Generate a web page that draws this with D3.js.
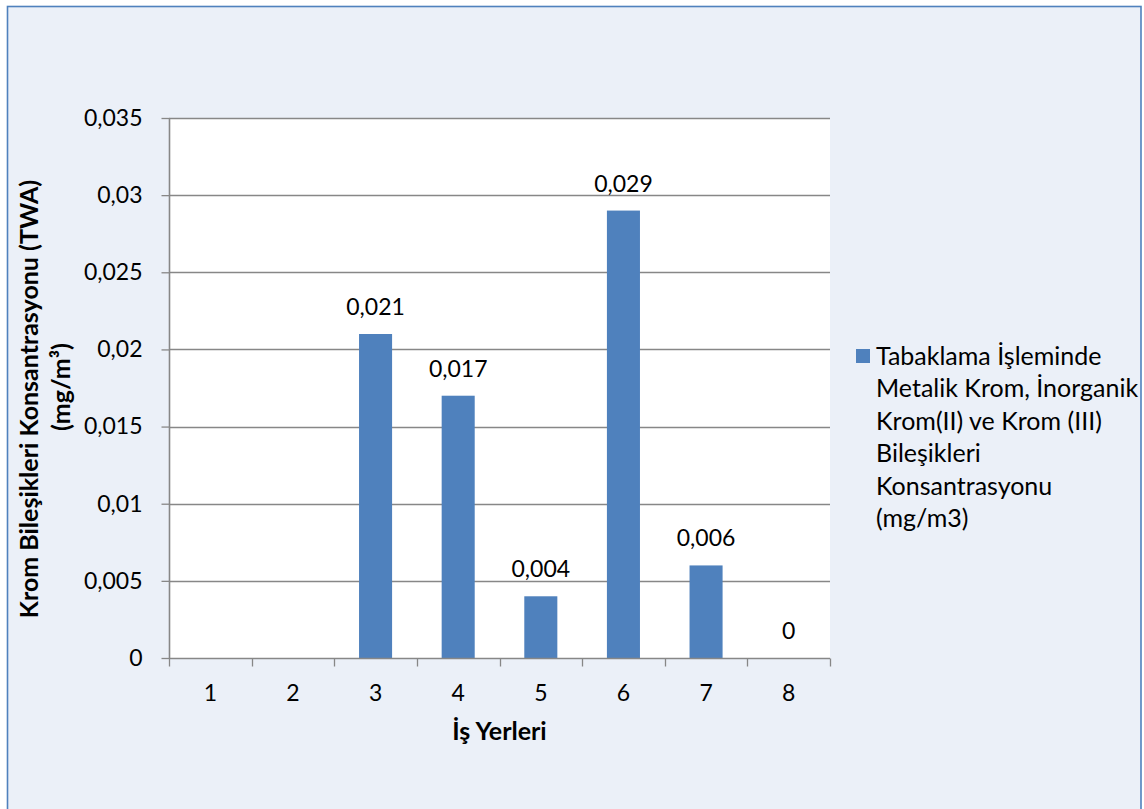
<!DOCTYPE html>
<html>
<head>
<meta charset="utf-8">
<script src="https://cdn.jsdelivr.net/npm/d3@7"></script>
<style>
  html, body { margin: 0; padding: 0; background: #fff; }
  svg { display: block; }
  text { font-family: Lato, "Open Sans", sans-serif; fill: #000; }
</style>
</head>
<body>
<script>
// Workplaces and their chromium compound concentrations (mg/m3, TWA)
const categories = ["1", "2", "3", "4", "5", "6", "7", "8"];
const values = [null, null, 0.021, 0.017, 0.004, 0.029, 0.006, 0];
const valueLabels = ["", "", "0,021", "0,017", "0,004", "0,029", "0,006", "0"];
const yTicks = [0, 0.005, 0.01, 0.015, 0.02, 0.025, 0.03, 0.035];
const yTickLabels = ["0", "0,005", "0,01", "0,015", "0,02", "0,025", "0,03", "0,035"];
const seriesName = ["Tabaklama İşleminde", "Metalik Krom, İnorganik", "Krom(II) ve Krom (III)", "Bileşikleri", "Konsantrasyonu", "(mg/m3)"];
const xTitle = "İş Yerleri";
const yTitle = ["Krom Bileşikleri Konsantrasyonu (TWA)", "(mg/m³)"];

const W = 1144, H = 809;
const plot = { left: 169, right: 830, top: 118, bottom: 658 };
const barColor = "#4F81BD";
const gridColor = "#878787";

const svg = d3.select("body").append("svg").attr("width", W).attr("height", H);

// chart area background and frame
svg.append("rect").attr("x", 0).attr("y", 0).attr("width", W).attr("height", H).attr("fill", "#fff");
svg.append("rect")
  .attr("x", 7.5).attr("y", 6.5).attr("width", 1133.5).attr("height", 820)
  .attr("fill", "#EBF0F8").attr("stroke", "#4F81BD").attr("stroke-width", 1.6);

// plot area
svg.append("rect")
  .attr("x", plot.left).attr("y", plot.top)
  .attr("width", plot.right - plot.left).attr("height", plot.bottom - plot.top)
  .attr("fill", "#fff");

const x = d3.scaleBand().domain(categories).range([plot.left, plot.right]).paddingInner(0).paddingOuter(0);
const y = d3.scaleLinear().domain([0, 0.035]).range([plot.bottom, plot.top]);

// horizontal gridlines
svg.append("g").selectAll("line").data(yTicks.filter(d => d > 0)).join("line")
  .attr("x1", plot.left).attr("x2", plot.right)
  .attr("y1", d => Math.round(y(d)) + 0.5).attr("y2", d => Math.round(y(d)) + 0.5)
  .attr("stroke", gridColor).attr("stroke-width", 1.3);

// bars
const barW = x.bandwidth() * 0.4;
svg.append("g").selectAll("rect").data(categories.map((c, i) => ({ c, v: values[i] })).filter(d => d.v !== null && d.v > 0)).join("rect")
  .attr("x", d => x(d.c) + (x.bandwidth() - barW) / 2)
  .attr("width", barW)
  .attr("y", d => y(d.v))
  .attr("height", d => y(0) - y(d.v))
  .attr("fill", barColor);

// y axis
const yAxis = d3.axisLeft(y).tickValues(yTicks).tickFormat((d, i) => yTickLabels[i]).tickSize(8).tickPadding(19);
const gy = svg.append("g").attr("transform", `translate(${plot.left + 0.5},0)`).call(yAxis);
gy.select(".domain").attr("stroke", gridColor).attr("stroke-width", 1.6).attr("d", `M0,${plot.top}V${plot.bottom}`);
gy.selectAll(".tick line").attr("stroke", gridColor).attr("stroke-width", 1.3);
gy.selectAll(".tick text").attr("font-size", 23).attr("font-family", "Lato").attr("fill", "#000");

// x axis with tick marks on category boundaries
const xAxisG = svg.append("g").attr("transform", `translate(0,${plot.bottom + 0.5})`);
xAxisG.append("line").attr("x1", plot.left).attr("x2", plot.right).attr("y1", 0).attr("y2", 0)
  .attr("stroke", gridColor).attr("stroke-width", 1.6);
const boundaries = categories.map(c => x(c)).concat([x(categories[categories.length - 1]) + x.bandwidth()]);
xAxisG.selectAll("line.tk").data(boundaries).join("line").attr("class", "tk")
  .attr("x1", d => Math.round(d) + 0.5).attr("x2", d => Math.round(d) + 0.5)
  .attr("y1", 0).attr("y2", 8)
  .attr("stroke", gridColor).attr("stroke-width", 1.3);
xAxisG.selectAll("text").data(categories).join("text")
  .attr("x", d => x(d) + x.bandwidth() / 2).attr("y", 42)
  .attr("text-anchor", "middle").attr("font-size", 23)
  .text(d => d);

// data labels
svg.append("g").selectAll("text").data(categories.map((c, i) => ({ c, v: values[i], t: valueLabels[i] })).filter(d => d.v !== null)).join("text")
  .attr("x", d => x(d.c) + x.bandwidth() / 2)
  .attr("y", d => y(d.v) - 19)
  .attr("text-anchor", "middle").attr("font-size", 23)
  .text(d => d.t);

// axis titles
svg.append("text")
  .attr("x", (plot.left + plot.right) / 2).attr("y", 740)
  .attr("text-anchor", "middle").attr("font-size", 25).attr("font-weight", "bold")
  .text(xTitle);

const yMid = (plot.top + plot.bottom) / 2;
const yt = svg.append("text")
  .attr("transform", `translate(38,${yMid}) rotate(-90)`)
  .attr("text-anchor", "middle").attr("font-size", 25).attr("font-weight", "bold");
yt.append("tspan").attr("x", -11).attr("y", 0).text(yTitle[0]);
yt.append("tspan").attr("x", 1).attr("y", 32).text(yTitle[1]);

// legend
const lg = svg.append("g");
lg.append("rect").attr("x", 856).attr("y", 349).attr("width", 14).attr("height", 14).attr("fill", barColor);
const lt = lg.append("text").attr("font-size", 25);
seriesName.forEach((s, i) => {
  lt.append("tspan").attr("x", 876).attr("y", 365 + i * 32.4).text(s);
});
</script>
</body>
</html>
